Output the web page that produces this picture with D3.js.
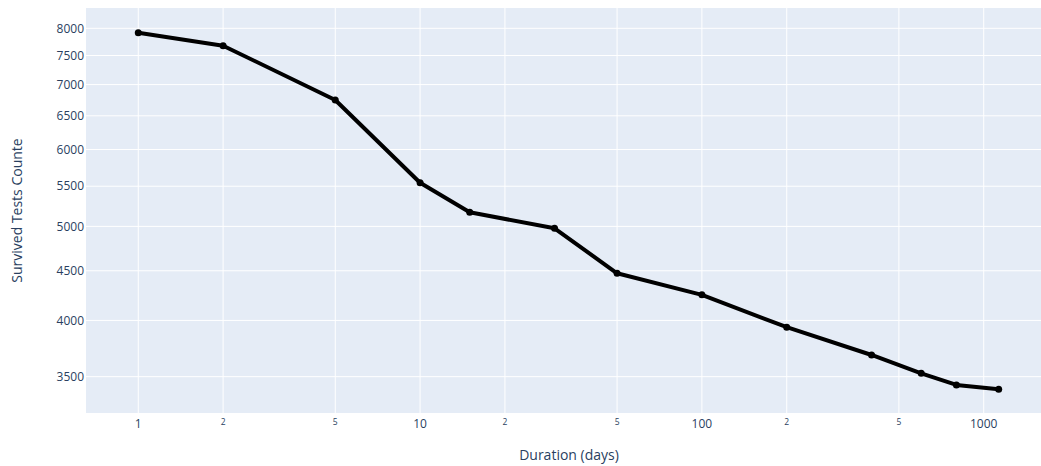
<!DOCTYPE html>
<html>
<head>
<meta charset="utf-8">
<script src="https://cdn.jsdelivr.net/npm/d3@7"></script>
<style>
  body { margin: 0; background: #fff; overflow: hidden; }
  text { font-family: "Open Sans", sans-serif; }
</style>
</head>
<body>
<script>
let width = 1041;
let height = 466;

// data
let durations = [1, 2, 5, 10, 15, 30, 50, 100, 200, 400, 600, 800, 1130];
let counts = [7918, 7677, 6748, 5546, 5170, 4977, 4473, 4250, 3936, 3685, 3528, 3432, 3397];

let xTicks = [1, 2, 5, 10, 20, 50, 100, 200, 500, 1000];
let xTickLabels = ['1', '2', '5', '10', '2', '5', '100', '2', '5', '1000'];
let yTicks = [3500, 4000, 4500, 5000, 5500, 6000, 6500, 7000, 7500, 8000];

let plot = { left: 86, top: 8, right: 1052, bottom: 413 };

let x = d3.scaleLog().domain([0.6524, 1747]).range([plot.left, plot.right]);
let y = d3.scaleLog().domain([3211, 8395]).range([plot.bottom, plot.top]);

let svg = d3.select('body').append('svg')
	.attr('width', width)
	.attr('height', height);

svg.append('rect')
	.attr('x', plot.left)
	.attr('y', plot.top)
	.attr('width', plot.right - plot.left)
	.attr('height', plot.bottom - plot.top)
	.style('fill', '#e5ecf6');

// grid
svg.append('g').selectAll('line').data(xTicks).join('line')
	.attr('x1', d => x(d)).attr('x2', d => x(d))
	.attr('y1', plot.top).attr('y2', plot.bottom)
	.style('stroke', '#fff').style('stroke-width', 1);

svg.append('g').selectAll('line').data(yTicks).join('line')
	.attr('x1', plot.left).attr('x2', plot.right)
	.attr('y1', d => y(d)).attr('y2', d => y(d))
	.style('stroke', '#fff').style('stroke-width', 1);

// x tick labels, the in-between ones are smaller
svg.append('g').selectAll('text').data(xTicks).join('text')
	.attr('x', d => x(d))
	.attr('y', (d, i) => xTickLabels[i].length > 1 || d === 1 ? 428 : 425)
	.attr('text-anchor', 'middle')
	.style('font-size', (d, i) => xTickLabels[i].length > 1 || d === 1 ? '12px' : '8.5px')
	.style('fill', '#2a3f5f')
	.text((d, i) => xTickLabels[i]);

svg.append('g').selectAll('text').data(yTicks).join('text')
	.attr('x', 84)
	.attr('y', d => y(d))
	.attr('dy', '0.35em')
	.attr('text-anchor', 'end')
	.style('font-size', '12px')
	.style('fill', '#2a3f5f')
	.text(d => d);

// axis titles
svg.append('text')
	.attr('x', (plot.left + plot.right) / 2)
	.attr('y', 460)
	.attr('text-anchor', 'middle')
	.style('font-size', '14px')
	.style('fill', '#2a3f5f')
	.text('Duration (days)');

svg.append('text')
	.attr('transform', 'translate(22,' + (plot.top + plot.bottom) / 2 + ') rotate(-90)')
	.attr('text-anchor', 'middle')
	.style('font-size', '14px')
	.style('fill', '#2a3f5f')
	.text('Survived Tests Counte');

// line + markers
let points = durations.map((d, i) => [d, counts[i]]);

svg.append('path')
	.datum(points)
	.attr('d', d3.line().x(d => x(d[0])).y(d => y(d[1])))
	.style('fill', 'none')
	.style('stroke', '#000')
	.style('stroke-width', 4)
	.style('stroke-linejoin', 'round');

svg.append('g').selectAll('circle').data(points).join('circle')
	.attr('cx', d => x(d[0]))
	.attr('cy', d => y(d[1]))
	.attr('r', 3.5)
	.style('fill', '#000');
</script>
</body>
</html>
